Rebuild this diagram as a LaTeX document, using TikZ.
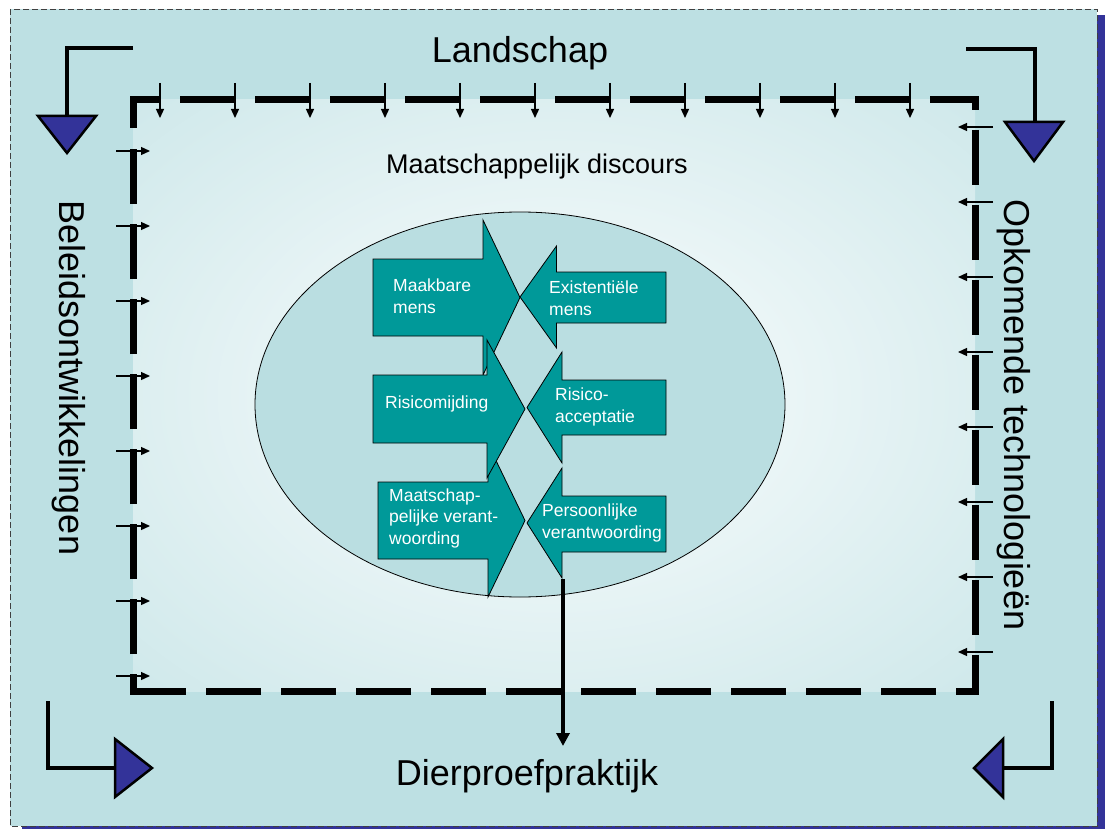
\documentclass[tikz,border=0pt]{standalone}
\usepackage{fontspec}
\setmainfont{Liberation Sans}
\usetikzlibrary{arrows.meta,shapes.geometric}

\definecolor{bgteal}{HTML}{BDE0E3}
\definecolor{glowc}{HTML}{EAF5F6}
\definecolor{ovalc}{HTML}{BADEE1}
\definecolor{blockteal}{HTML}{009999}
\definecolor{navy}{HTML}{333399}
\definecolor{framegray}{HTML}{404040}

% soft light centre inside the dashed field
\pgfdeclareradialshading{fieldglow}{\pgfpoint{0bp}{0bp}}{%
  color(0bp)=(glowc); color(14bp)=(glowc); color(50bp)=(bgteal); color(72bp)=(bgteal)}

\begin{document}
\begin{tikzpicture}[x=1pt,y=-1pt,
  fieldline/.style={line width=7pt, line join=miter, dash pattern=on 55pt off 20pt},
  tickarrow/.style={line width=1.3pt, -{Triangle[length=9pt,width=8pt]}},
  cornerline/.style={line width=4pt, line join=miter},
  cornerhead/.style={fill=navy, draw=black, line width=2.5pt, line join=miter},
  blockarrow/.style={fill=blockteal, draw=black, line width=0.8pt, line join=miter},
  blocktext/.style={text=white, font=\fontsize{17.5}{21.5}\selectfont, align=left, inner sep=0pt, anchor=base west},
  bigtext/.style={font=\fontsize{36}{40}\selectfont, inner sep=0pt},
  oval/.style={ellipse, draw=black, line width=0.8pt, fill=ovalc, minimum width=530pt, minimum height=385pt, inner sep=0pt}
]
\useasboundingbox (0,0) rectangle (1105,829);

% slide panel with its shadow and thin dashed border
\fill[navy] (22,15) rectangle (1105,829);
\fill[bgteal] (10,9) rectangle (1097,826);
\shade[shading=fieldglow] (133,100) rectangle (975,691);
\draw[framegray, line width=0.9pt, dash pattern=on 6pt off 3pt] (10,9) rectangle (1097,826);

% thick dashed field boundary
\draw[fieldline] (133,128) -- (133,100) -- (975,100) -- (975,691) -- (133,691);
\draw[fieldline, dash phase=34.5pt] (133,694.5) -- (133,129);

% small influence arrows along the boundary
\foreach \k in {0,...,10}
  \draw[tickarrow] ({160+75*\k},83) -- ({160+75*\k},118);
\foreach \k in {0,...,7}
  \draw[tickarrow] (116,{151+75*\k}) -- (150,{151+75*\k});
\foreach \k in {0,...,7}
  \draw[tickarrow] (993,{127+75*\k}) -- (958,{127+75*\k});

% corner arrows
\draw[cornerline] (133,48) -- (67,48) -- (67,116);
\draw[cornerhead] (38,116) -- (96,116) -- (67,153) -- cycle;
\draw[cornerline] (966,49) -- (1035,49) -- (1035,122);
\draw[cornerhead] (1005,122) -- (1063,122) -- (1034,161) -- cycle;
\draw[cornerline] (48,701) -- (48,768) -- (115,768);
\draw[cornerhead] (115,739) -- (115,797) -- (152,768) -- cycle;
\draw[cornerline] (1052,701) -- (1052,768) -- (1003,768);
\draw[cornerhead] (1003,739) -- (1003,797) -- (974,768) -- cycle;

% labels of the four sides
\node[bigtext, anchor=base] (landschap) at (520,63) {Landschap};
\node[bigtext, anchor=base] (dierproef) at (527,785) {Dierproefpraktijk};
\node[bigtext, rotate=-90] (beleid) at (69,378) {Beleidsontwikkelingen};
\node[bigtext, rotate=-90] (opkomend) at (1014,415) {Opkomende technologieën};
\node[font=\fontsize{27}{30}\selectfont, inner sep=0pt, anchor=base] (discours) at (537,174) {Maatschappelijk discours};

% central oval
\node[oval] (ovaal) at (520,404.5) {};

% block arrows, left column pointing right, right column pointing left
\draw[blockarrow] (373,259) -- (483,259) -- (483,220) -- (520,297.5) -- (483,375) -- (483,336) -- (373,336) -- cycle;
\draw[blockarrow] (378,482) -- (488,482) -- (488,444) -- (525,520.5) -- (488,597) -- (488,559) -- (378,559) -- cycle;
\draw[blockarrow] (373,375) -- (487,375) -- (487,340) -- (525,409) -- (487,478) -- (487,443) -- (373,443) -- cycle;
\draw[blockarrow] (666,272) -- (556.5,272) -- (556.5,246) -- (520,297) -- (556.5,348) -- (556.5,323) -- (666,323) -- cycle;
\draw[blockarrow] (666,496) -- (562,496) -- (562,468) -- (527,523) -- (562,578) -- (562,552) -- (666,552) -- cycle;
\draw[blockarrow] (666,380) -- (562,380) -- (562,352) -- (527,407.5) -- (562,463) -- (562,435) -- (666,435) -- cycle;

% block labels, placed by the baseline of their last line
\node[blocktext] (maakbaar) at (393,313) {Maakbare\\mens};
\node[blocktext] (existentieel) at (549,315) {Existentiële\\mens};
\node[blocktext] (risicomijding) at (385,408) {Risicomijding};
\node[blocktext] (risicoaccept) at (555,422) {Risico-\\acceptatie};
\node[blocktext] (maatschappelijk) at (389,544) {Maatschap-\\pelijke verant-\\woording};
\node[blocktext] (persoonlijk) at (542,538) {Persoonlijke\\verantwoording};

% outcome connector down to the practice
\coordinate (pv-foot) at (563,579);
\coordinate (dp-top) at (563,746);
\draw[line width=4pt, -{Triangle[length=13pt,width=13pt]}] (pv-foot) -- (dp-top);
\end{tikzpicture}
\end{document}
